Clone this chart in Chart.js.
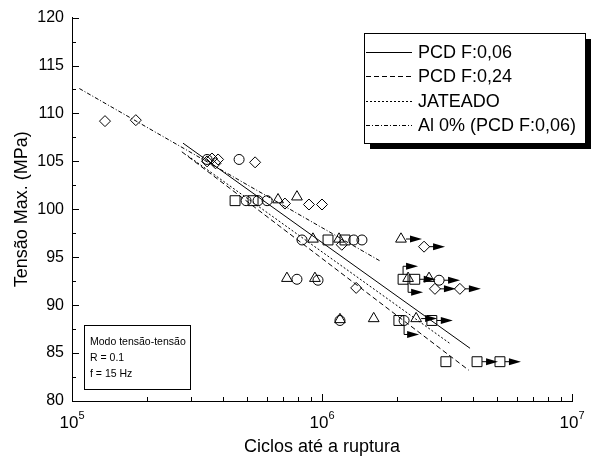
<!DOCTYPE html>
<html>
<head>
<meta charset="utf-8">
<script src="https://cdn.jsdelivr.net/npm/chart.js@4"></script>
<style>
  html, body { margin: 0; padding: 0; background: #fff; }
  #wrap { width: 594px; height: 462px; }
</style>
</head>
<body>
<div id="wrap"><canvas id="fatigueChart" width="594" height="462"></canvas></div>
<script>
// Axis ticks
const xTicks = [1e5, 1e6, 1e7];
const yTicks = [80, 85, 90, 95, 100, 105, 110, 115, 120];

// Fitted lines (two end points each)
const lineNames = ['PCD F:0,06', 'PCD F:0,24', 'JATEADO', 'Al 0% (PCD F:0,06)'];
const pcd006Line = [{ x: 2.78e5, y: 106.9 }, { x: 3.91e6, y: 85.5 }];
const pcd024Line = [{ x: 2.75e5, y: 106.0 }, { x: 3.87e6, y: 83.2 }];
const jateadoLine = [{ x: 2.90e5, y: 105.6 }, { x: 3.25e6, y: 86.0 }];
const al0Line = [{ x: 1.07e5, y: 112.6 }, { x: 1.71e6, y: 94.6 }];

// Test points: cycles, stress, runout arrow ('' none, 'r' right, 'ur' up+right, 'dr' down+right)
const squareCycles = [4.49e5, 5.30e5, 1.057e6, 1.236e6, 2.11e6, 2.35e6, 2.03e6, 2.75e6, 3.13e6, 4.17e6, 5.15e6];
const squareStress = [100.9, 100.9, 96.8, 96.8, 92.7, 92.7, 88.4, 88.4, 84.1, 84.1, 84.1];
const squareRunout = ['', '', '', '', 'ur', 'r', '', 'r', '', 'r', 'r'];

const circleCycles = [3.47e5, 4.66e5, 4.97e5, 5.55e5, 6.03e5, 8.32e5, 1.34e6, 1.445e6, 7.94e5, 9.64e5, 2.94e6, 1.18e6, 2.13e6];
const circleStress = [105.2, 105.2, 100.9, 100.9, 100.9, 96.8, 96.8, 96.8, 92.7, 92.6, 92.6, 88.4, 88.4];
const circleRunout = ['', '', '', '', '', '', '', '', '', '', 'r', '', 'dr'];

const triangleCycles = [7.94e5, 9.20e5, 1.17e6, 2.07e6, 7.24e5, 9.37e5, 2.21e6, 2.68e6, 1.18e6, 1.61e6, 2.38e6, 6.67e5];
const triangleStress = [101.3, 96.9, 96.9, 96.9, 92.8, 92.8, 92.8, 92.8, 88.5, 88.6, 88.6, 101.0];
const triangleRunout = ['', '', '', 'r', '', '', 'dr', '', '', '', 'r', ''];

const diamondCycles = [1.355e5, 1.80e5, 3.47e5, 3.63e5, 3.84e5, 3.75e5, 5.40e5, 7.11e5, 8.87e5, 1.0e6, 1.20e6, 2.56e6, 1.37e6, 2.83e6, 3.56e6];
const diamondStress = [109.2, 109.3, 105.0, 105.3, 105.2, 104.8, 104.9, 100.6, 100.5, 100.5, 96.3, 96.1, 91.8, 91.7, 91.7];
const diamondRunout = ['', '', '', '', '', '', '', '', '', '', '', 'r', '', 'r', 'r'];

const infoLines = ['Modo tensão-tensão', 'R = 0.1', 'f = 15 Hz'];

const FONT = 'Arial, "Liberation Sans", sans-serif';

function pts(xs, ys) {
    return xs.map((x, i) => ({ x: x, y: ys[i] }));
}

function lineSet(label, data, dash) {
    return {
        type: 'line', label: label, data: data,
        borderColor: '#000', borderWidth: 1, borderDash: dash,
        pointRadius: 0, fill: false, tension: 0
    };
}

function markSet(label, data, style, radius, runout) {
    return {
        type: 'scatter', label: label, data: data, runout: runout,
        pointStyle: style, pointRadius: radius, pointHoverRadius: radius,
        borderColor: '#000', backgroundColor: 'rgba(0,0,0,0)', borderWidth: 1
    };
}

// Inward ticks, superscript decade labels, legend box, info box and runout arrows
const decorPlugin = {
    id: 'decor',
    afterDatasetsDraw(chart) {
        const c = chart.ctx;
        const xs = chart.scales.x, ys = chart.scales.y;
        const area = chart.chartArea;
        c.save();
        c.strokeStyle = '#000';
        c.fillStyle = '#000';
        c.lineWidth = 1;

        // runout arrows
        chart.data.datasets.forEach((ds, di) => {
            if (!ds.runout) return;
            const meta = chart.getDatasetMeta(di);
            meta.data.forEach((el, i) => {
                const kind = ds.runout[i];
                if (!kind) return;
                let x = el.x, y = el.y;
                c.beginPath();
                if (kind === 'r') {
                    c.moveTo(x + 5, y); c.lineTo(x + 10, y);
                } else {
                    const dy = kind === 'ur' ? -13 : 14;
                    c.moveTo(x, y + (kind === 'ur' ? -5 : 5));
                    c.lineTo(x, y + dy);
                    c.lineTo(x + 4, y + dy);
                    y = y + dy; x = x - 6;
                }
                c.stroke();
                c.beginPath();
                c.moveTo(x + 9, y - 3.5);
                c.lineTo(x + 21, y);
                c.lineTo(x + 9, y + 3.5);
                c.closePath();
                c.fill();
            });
        });

        // inward ticks on the left and bottom axes
        c.beginPath();
        for (let v = 80; v <= 120; v += 2.5) {
            const py = Math.round(ys.getPixelForValue(v)) + 0.5;
            const len = v % 5 === 0 ? 7 : 4;
            c.moveTo(area.left, py); c.lineTo(area.left + len, py);
        }
        for (let d = 1e5; d < 1e7; d *= 10) {
            for (let m = 1; m <= 10; m++) {
                const px = Math.round(xs.getPixelForValue(d * m)) + 0.5;
                const len = (m === 1 || m === 10) ? 7 : 4;
                c.moveTo(px, area.bottom); c.lineTo(px, area.bottom - len);
            }
        }
        c.stroke();

        // decade labels with superscript
        c.textBaseline = 'alphabetic';
        xTicks.forEach(v => {
            const px = xs.getPixelForValue(v);
            const exp = String(Math.round(Math.log10(v)));
            c.font = '17px ' + FONT;
            const w1 = c.measureText('10').width;
            c.font = '11px ' + FONT;
            const w2 = c.measureText(exp).width;
            const x0 = px - (w1 + w2) / 2;
            c.font = '17px ' + FONT;
            c.textAlign = 'left';
            c.fillText('10', x0, 428);
            c.font = '11px ' + FONT;
            c.fillText(exp, x0 + w1, 419);
        });

        // legend box with shadow
        const lx = 364, ly = 33, lw = 221, lh = 110;
        c.fillRect(lx + 6, ly + lh, lw, 6);
        c.fillRect(lx + lw, ly + 6, 6, lh);
        c.fillStyle = '#fff';
        c.fillRect(lx, ly, lw, lh);
        c.fillStyle = '#000';
        c.strokeRect(lx + 0.5, ly + 0.5, lw, lh);
        c.font = '18px ' + FONT;
        c.textAlign = 'left';
        c.textBaseline = 'middle';
        for (let i = 0; i < 4; i++) {
            const ds = chart.data.datasets[i];
            const yy = Math.round(ly + 19 + i * 24.3) + 0.5;
            c.beginPath();
            c.setLineDash(ds.borderDash || []);
            c.moveTo(lx + 2, yy); c.lineTo(lx + 48, yy);
            c.stroke();
            c.setLineDash([]);
            c.fillText(ds.label, lx + 54, yy + 1);
        }

        // info box
        const bx = 84, by = 325, bw = 106, bh = 64;
        c.fillStyle = '#fff';
        c.fillRect(bx, by, bw, bh);
        c.fillStyle = '#000';
        c.strokeRect(bx + 0.5, by + 0.5, bw, bh);
        c.font = '10.5px ' + FONT;
        infoLines.forEach((t, i) => c.fillText(t, bx + 6, by + 17 + i * 16));
        c.restore();
    }
};

const chart = new Chart(document.getElementById('fatigueChart').getContext('2d'), {
    data: {
        datasets: [
            lineSet(lineNames[0], pcd006Line, []),
            lineSet(lineNames[1], pcd024Line, [5, 3]),
            lineSet(lineNames[2], jateadoLine, [2, 2]),
            lineSet(lineNames[3], al0Line, [4, 2, 1, 2]),
            markSet('quadrado', pts(squareCycles, squareStress), 'rect', 7, squareRunout),
            markSet('círculo', pts(circleCycles, circleStress), 'circle', 5, circleRunout),
            markSet('triângulo', pts(triangleCycles, triangleStress), 'triangle', 6.2, triangleRunout),
            markSet('losango', pts(diamondCycles, diamondStress), 'rectRot', 5.5, diamondRunout)
        ]
    },
    plugins: [decorPlugin],
    options: {
        responsive: false,
        animation: false,
        layout: { padding: { left: 0, right: 22, top: 15, bottom: 0 } },
        plugins: { legend: { display: false }, tooltip: { enabled: false } },
        scales: {
            x: {
                type: 'logarithmic', min: 1e5, max: 1e7,
                afterBuildTicks: s => { s.ticks = xTicks.map(v => ({ value: v })); },
                afterFit: s => { s.height = 61; },
                grid: { display: false, drawTicks: false },
                border: { display: true, color: '#000', width: 1 },
                ticks: { display: false },
                title: {
                    display: true, text: 'Ciclos até a ruptura', color: '#000',
                    font: { family: FONT, size: 18 }, padding: { top: 0, bottom: 4 }
                }
            },
            y: {
                min: 80, max: 120,
                afterBuildTicks: s => { s.ticks = yTicks.map(v => ({ value: v })); },
                afterFit: s => { s.width = 72; },
                grid: { display: false, drawTicks: false },
                border: { display: true, color: '#000', width: 1 },
                ticks: { color: '#000', padding: 8, font: { family: FONT, size: 16 } },
                title: {
                    display: true, text: 'Tensão Max. (MPa)', color: '#000',
                    font: { family: FONT, size: 18 }, padding: { top: 11, bottom: 0 }
                }
            }
        }
    }
});
</script>
</body>
</html>
